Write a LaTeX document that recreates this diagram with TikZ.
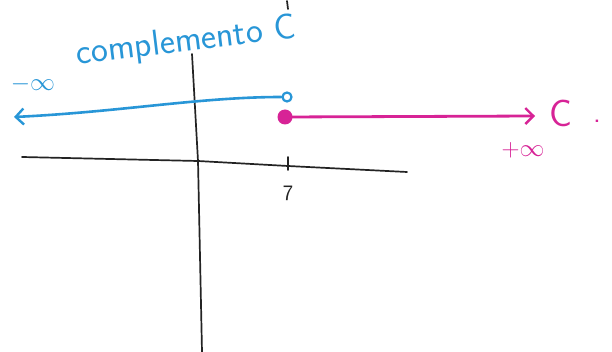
\documentclass[tikz,border=0pt]{standalone}
\usetikzlibrary{arrows.meta}
\definecolor{penblue}{RGB}{40,150,215}
\definecolor{penmag}{RGB}{215,35,150}
\definecolor{penblack}{RGB}{35,35,35}
\begin{document}
\begin{tikzpicture}[x=1pt,y=-1pt,
  axisline/.style={draw=penblack,line width=1.7pt,line cap=round},
  blueline/.style={draw=penblue,line width=2.6pt,line cap=round},
  magline/.style={draw=penmag,line width=2.8pt,line cap=round},
  bluetext/.style={text=penblue,font=\sffamily},
  magtext/.style={text=penmag,font=\sffamily}]
\useasboundingbox[fill=white] (0,0) rectangle (612,352);
% axes
\coordinate (xl) at (22,157);
\coordinate (o) at (198,161);
\coordinate (xt) at (288,166);
\coordinate (xr) at (407,172);
\coordinate (yt) at (192,54);
\coordinate (yb) at (202,352);
\draw[axisline] (xl) -- (o) -- (xt) -- (xr);
\draw[axisline] (yt) -- (o) -- (yb);
\draw[axisline] (288,157) -- (288,170);
\node[font=\sffamily\fontsize{22}{22}\selectfont,text=penblack] (seven) at (288,193) {7};
\draw[axisline] (287,1) -- (288,9);
% blue interval
\node[circle,draw=penblue,line width=2.2pt,minimum size=9pt,inner sep=0pt] (open) at (287,97) {};
\coordinate (bl) at (14,117);
\draw[blueline,-{Straight Barb[length=8pt,width=16pt,line width=2.4pt]}] (open.west) .. controls (200,97) and (120,112) .. (bl);
\node[bluetext,rotate=7,font=\sffamily\fontsize{36}{36}\selectfont] (comp) at (186,42) {complemento C};
\node[bluetext,font=\fontsize{28}{28}\selectfont] (minf) at (33,84) {$-\infty$};
% magenta interval
\node[circle,fill=penmag,minimum size=15pt,inner sep=0pt] (closed) at (285,117) {};
\coordinate (mr) at (535,116);
\draw[magline,-{Straight Barb[length=8pt,width=16pt,line width=2.4pt]}] (closed.center) -- (mr);
\node[magtext,font=\sffamily\fontsize{38}{38}\selectfont] (cc) at (561,113) {C};
\node[magtext,font=\sffamily\fontsize{30}{30}\selectfont] (dot) at (597,121) {.};
\node[magtext,font=\fontsize{25}{25}\selectfont] (pinf) at (523,150) {$+\infty$};
\end{tikzpicture}
\end{document}
